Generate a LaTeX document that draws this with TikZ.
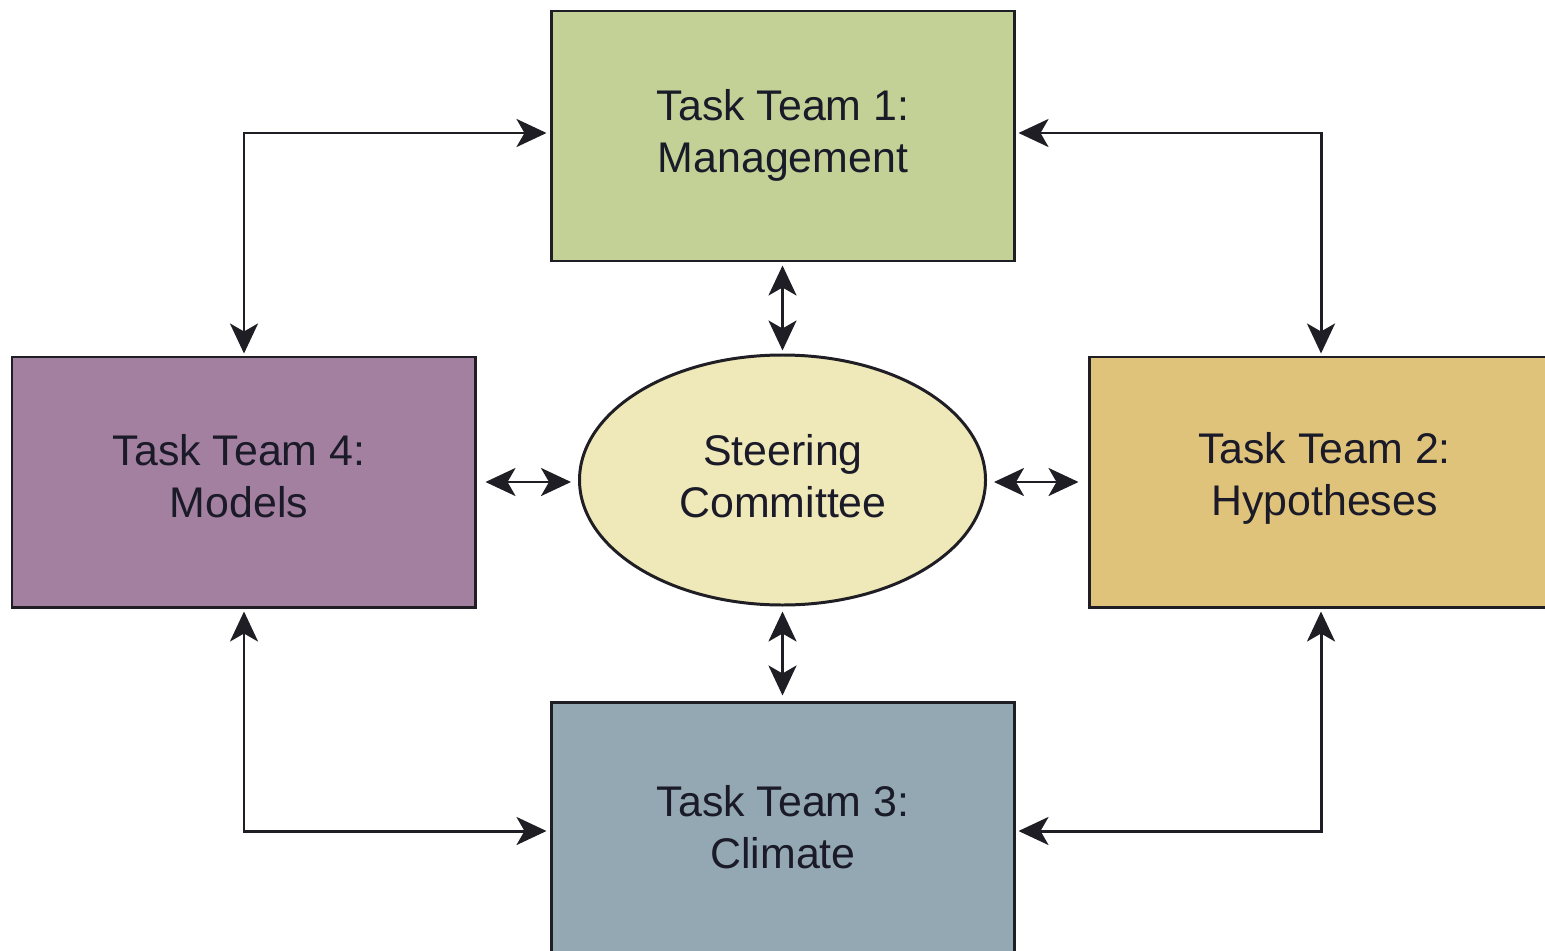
\documentclass[tikz,border=0pt]{standalone}
\usepackage{fontspec}
\setmainfont{Liberation Sans}
\usetikzlibrary{arrows.meta,shapes.geometric}
\definecolor{ttgreen}{HTML}{C3D197}
\definecolor{ttpurple}{HTML}{A37FA0}
\definecolor{tttan}{HTML}{E0C37B}
\definecolor{ttblue}{HTML}{93A8B3}
\definecolor{ttcream}{HTML}{EFE8B8}
\definecolor{ttline}{HTML}{1E1E24}
\definecolor{tttext}{HTML}{1A1A28}
\begin{document}
\begin{tikzpicture}[
  teambox/.style={draw=ttline, line width=0.85pt, minimum width=4.63cm, minimum height=2.50cm, inner sep=0pt},
  teamtext/.style={align=center, text=tttext, inner sep=0pt, font=\fontsize{12.2}{14.8}\selectfont},
  link/.style={draw=ttline, line width=0.85pt,
    {Stealth[length=0.30cm,width=0.28cm,inset=0.08cm]}-{Stealth[length=0.30cm,width=0.28cm,inset=0.08cm]}}
]
\useasboundingbox (0,0) rectangle (15.45,-9.50);
\clip (0,0) rectangle (15.45,-9.50);
\node[teambox, fill=ttgreen] (tt1) at (7.825,-1.36) {};
\node[teambox, fill=ttpurple] (tt4) at (2.435,-4.82) {};
\node[teambox, fill=tttan] (tt2) at (13.205,-4.82) {};
\node[teambox, fill=ttblue] (tt3) at (7.825,-8.27) {};
\node[ellipse, draw=ttline, line width=0.85pt, fill=ttcream, minimum width=4.06cm, minimum height=2.50cm,
  inner sep=0pt] (sc) at (7.825,-4.80) {};
\node[teamtext] (tt1t) at (7.83,-1.35) {Task Team 1:\\Management};
\node[teamtext] (tt4t) at (2.39,-4.76) {Task Team 4:\\Models};
\node[teamtext] (tt2t) at (13.245,-4.78) {Task Team 2:\\Hypotheses};
\node[teamtext] (tt3t) at (7.83,-8.27) {Task Team 3:\\Climate};
\node[teamtext] (sct) at (7.83,-4.76) {Steering\\Committee};
% corner connectors
\draw[link, shorten <=0.02cm, shorten >=0.03cm] ([xshift=0.005cm]tt4.north) |- ([yshift=0.03cm]tt1.west);
\draw[link, shorten <=0.03cm, shorten >=0.02cm] ([yshift=0.03cm]tt1.east) -| ([xshift=0.005cm]tt2.north);
\draw[link, shorten <=0.03cm, shorten >=0.03cm] ([xshift=0.005cm]tt4.south) |- ([yshift=-0.04cm]tt3.west);
\draw[link, shorten <=0.03cm, shorten >=0.03cm] ([xshift=0.005cm]tt2.south) |- ([yshift=-0.04cm]tt3.east);
% centre connectors
\draw[link, shorten <=0.03cm, shorten >=0.03cm] (tt1.south) -- (sc.north);
\draw[link, shorten <=0.05cm, shorten >=0.05cm] (sc.south) -- (tt3.north);
\draw[link, shorten <=0.09cm, shorten >=0.07cm] (tt4.east) -- (tt4.east -| sc.west);
\draw[link, shorten <=0.07cm, shorten >=0.09cm] (sc.east |- tt2.west) -- (tt2.west);
\end{tikzpicture}
\end{document}
